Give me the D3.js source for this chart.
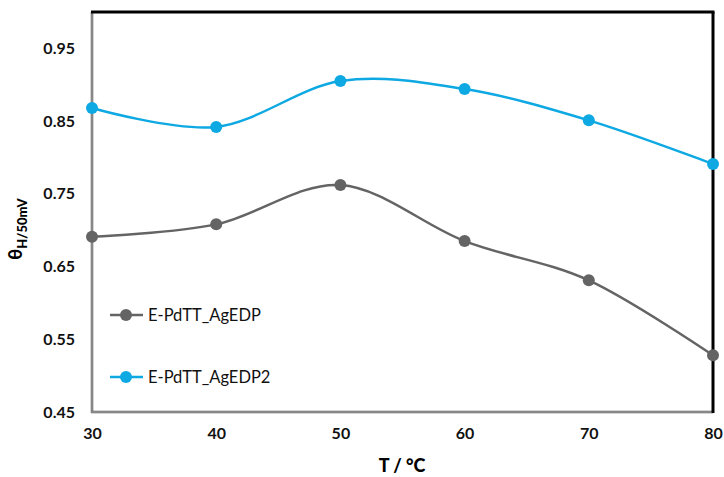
<!DOCTYPE html>
<html><head><meta charset="utf-8">
<script src="https://cdn.jsdelivr.net/npm/d3@7"></script>
<style>body{margin:0;background:#fff;} svg{display:block;}</style>
</head><body>
<svg id="c" width="724" height="477"></svg>
<script>
const temps = [30, 40, 50, 60, 70, 80];
const seriesNames = ["E-PdTT_AgEDP", "E-PdTT_AgEDP2"];
const grayValues = [0.691, 0.708, 0.762, 0.685, 0.631, 0.528];
const blueValues = [0.868, 0.842, 0.905, 0.894, 0.851, 0.791];
const yTicks = [0.45, 0.55, 0.65, 0.75, 0.85, 0.95];
const xTicks = [30, 40, 50, 60, 70, 80];
const colors = ["#646464", "#0ea8e2"];

const svg = d3.select("#c");
const L = 92, R = 713, T = 12, B = 412;
const x = d3.scaleLinear().domain([30, 80]).range([L, R]);
const y = d3.scaleLinear().domain([0.45, 1.0]).range([B, T]);
const font = "Lato, 'Open Sans', sans-serif";

// frame
svg.append("line").attr("x1", L).attr("x2", L).attr("y1", T).attr("y2", B + 1).attr("stroke", "#555").attr("stroke-width", 2.5);
svg.append("line").attr("x1", L).attr("x2", L).attr("y1", T).attr("y2", B + 1).attr("stroke", "#bbb").attr("stroke-width", 1);
svg.append("line").attr("x1", L - 1).attr("x2", R).attr("y1", B).attr("y2", B).attr("stroke", "#555").attr("stroke-width", 2.5);
svg.append("line").attr("x1", L - 1).attr("x2", R).attr("y1", B).attr("y2", B).attr("stroke", "#bbb").attr("stroke-width", 1);
svg.append("line").attr("x1", L - 1).attr("x2", R + 1.5).attr("y1", T).attr("y2", T).attr("stroke", "#000").attr("stroke-width", 3);
svg.append("line").attr("x1", R).attr("x2", R).attr("y1", T).attr("y2", B + 1).attr("stroke", "#000").attr("stroke-width", 3);

// axes labels
const ya = svg.append("g").attr("transform", `translate(${L},0)`)
  .call(d3.axisLeft(y).tickValues(yTicks).tickSize(0).tickPadding(17).tickFormat(d3.format(".2f")));
ya.select(".domain").remove();
ya.selectAll("text").attr("font-family", font).attr("font-size", 16).attr("font-weight", "bold").attr("fill", "#111");

const xa = svg.append("g").attr("transform", `translate(0,${B})`)
  .call(d3.axisBottom(x).tickValues(xTicks).tickSize(0).tickPadding(16).tickFormat(d3.format("d")));
xa.select(".domain").remove();
xa.selectAll("text").attr("font-family", font).attr("font-size", 16).attr("font-weight", "bold").attr("fill", "#111");

// series
const line = d3.line().x((d, i) => x(temps[i])).y(d => y(d)).curve(d3.curveCatmullRom.alpha(0));
[grayValues, blueValues].forEach((vals, k) => {
  svg.append("path").attr("d", line(vals)).attr("fill", "none").attr("stroke", colors[k]).attr("stroke-width", 2.5);
  svg.selectAll(null).data(vals).enter().append("circle")
    .attr("cx", (d, i) => x(temps[i])).attr("cy", d => y(d)).attr("r", 6).attr("fill", colors[k]);
});

// legend
const legY = [315, 377];
seriesNames.forEach((n, k) => {
  const g = svg.append("g");
  g.append("line").attr("x1", 110).attr("x2", 143).attr("y1", legY[k]).attr("y2", legY[k]).attr("stroke", colors[k]).attr("stroke-width", 2.5);
  g.append("circle").attr("cx", 126).attr("cy", legY[k]).attr("r", 6).attr("fill", colors[k]);
  g.append("text").attr("x", 148).attr("y", legY[k] + 5.5).attr("font-family", font).attr("font-size", 16.5).attr("fill", "#111").text(n);
});

// axis titles
svg.append("text").attr("x", 402).attr("y", 472).attr("text-anchor", "middle")
  .attr("font-family", font).attr("font-size", 18).attr("font-weight", "900").attr("fill", "#000").text("T / °C");
const yt = svg.append("text").attr("transform", "translate(22,229) rotate(-90)").attr("text-anchor", "middle")
  .attr("font-family", font).attr("font-weight", "900").attr("fill", "#000");
yt.append("tspan").attr("font-size", 18).text("θ");
yt.append("tspan").attr("font-size", 13).attr("dy", 5).text("H/50mV");
</script>
</body></html>
